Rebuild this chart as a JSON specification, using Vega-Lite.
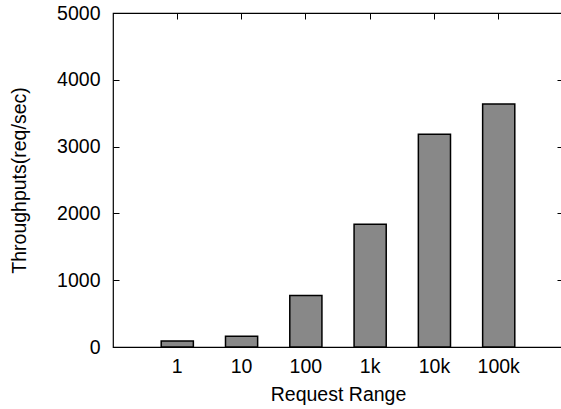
{
  "$schema": "https://vega.github.io/schema/vega-lite/v6.json",
  "autosize": "none",
  "width": 450,
  "height": 334,
  "padding": {"left": 113, "top": 13, "right": 0, "bottom": 62},
  "background": "white",
  "config": {
    "view": {"stroke": "black", "strokeWidth": 1.2},
    "font": "Liberation Sans",
    "axis": {
      "labelFont": "Liberation Sans",
      "titleFont": "Liberation Sans",
      "labelFontSize": 19.5,
      "titleFontSize": 19.5,
      "labelColor": "black",
      "titleColor": "black",
      "titleFontWeight": "normal",
      "domain": false,
      "grid": false,
      "tickColor": "black",
      "tickWidth": 1
    }
  },
  "data": {
    "values": [
      {"range": "1", "throughput": 90},
      {"range": "10", "throughput": 160},
      {"range": "100", "throughput": 770},
      {"range": "1k", "throughput": 1838},
      {"range": "10k", "throughput": 3186},
      {"range": "100k", "throughput": 3636}
    ]
  },
  "layer": [
    {
      "mark": {"type": "bar", "fill": "#888888", "stroke": "black", "strokeWidth": 1.5},
      "encoding": {
        "x": {
          "field": "range",
          "type": "ordinal",
          "sort": null,
          "scale": {"paddingInner": 0.5, "paddingOuter": 0.75},
          "axis": {"orient": "bottom", "title": "Request Range", "labelAngle": 0, "tickSize": -6, "labelPadding": 16, "titlePadding": 10}
        },
        "y": {
          "field": "throughput",
          "type": "quantitative",
          "scale": {"domain": [0, 5000], "nice": false},
          "axis": {"orient": "left", "title": "Throughputs(req/sec)", "format": "d", "values": [0, 1000, 2000, 3000, 4000, 5000], "tickSize": -6, "labelPadding": 19, "titlePadding": 27}
        }
      }
    },
    {
      "mark": {"type": "bar", "opacity": 0},
      "encoding": {
        "x": {
          "field": "range",
          "type": "ordinal",
          "sort": null,
          "axis": {"orient": "top", "title": null, "labels": false, "tickSize": -6}
        },
        "y": {
          "field": "throughput",
          "type": "quantitative",
          "axis": {"orient": "right", "title": null, "labels": false, "values": [0, 1000, 2000, 3000, 4000, 5000], "tickSize": -6}
        }
      }
    }
  ],
  "resolve": {"axis": {"x": "independent", "y": "independent"}}
}
